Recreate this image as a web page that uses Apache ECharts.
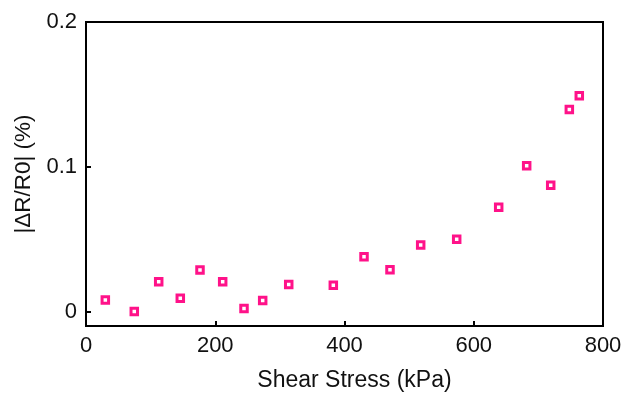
<!DOCTYPE html>
<html>
<head>
<meta charset="utf-8">
<script src="https://cdn.jsdelivr.net/npm/echarts@6/dist/echarts.min.js"></script>
<style>
  html, body { margin: 0; padding: 0; background: #fff; }
  #chart { width: 625px; height: 395px; }
</style>
</head>
<body>
<div id="chart"></div>
<script>
// Shear stress (kPa) and relative resistance change |ΔR/R0| (%)
const shearStress = [29.9, 74.7, 112.5, 145.9, 176.4, 211.5, 244.5, 273.4, 313.7, 382.7,
                     430.2, 470.4, 517.9, 573.6, 638.6, 681.9, 719.1, 747.9, 763.3];
const resistanceChange = [0.008, 0.0, 0.0205, 0.0092, 0.0286, 0.0205, 0.0021, 0.0076, 0.0186, 0.0182,
                          0.0379, 0.0288, 0.046, 0.0499, 0.072, 0.1007, 0.0872, 0.1396, 0.149];
const xTicks = [0, 200, 400, 600, 800];
const yTicks = [0, 0.1, 0.2];

const points = shearStress.map((x, i) => [x, resistanceChange[i]]);
const font = 'Liberation Sans, Arial, sans-serif';

const chart = echarts.init(document.getElementById('chart'), null, { renderer: 'canvas' });
chart.setOption({
  animation: false,
  backgroundColor: '#ffffff',
  grid: {
    left: 86, right: 22, top: 22, bottom: 69,
    outerBoundsMode: 'none', containLabel: false,
    show: true, borderColor: '#000', borderWidth: 2, backgroundColor: 'transparent'
  },
  xAxis: {
    type: 'value', min: 0, max: 800, interval: 200,
    name: 'Shear Stress (kPa)', nameLocation: 'middle', nameGap: 43,
    nameTextStyle: { fontFamily: font, fontSize: 23, color: '#111', padding: [0, 0, 0, 20] },
    axisLine: { show: true, onZero: false, lineStyle: { color: '#000', width: 2 } },
    axisTick: { show: true, inside: true, length: 5, lineStyle: { color: '#000', width: 2 } },
    axisLabel: { fontFamily: font, fontSize: 22, color: '#111', margin: 9, customValues: xTicks },
    splitLine: { show: false }
  },
  yAxis: {
    type: 'value', min: -0.01, max: 0.2,
    name: '|ΔR/R0| (%)', nameLocation: 'middle', nameGap: 49, nameRotate: 90,
    nameTextStyle: { fontFamily: font, fontSize: 22.5, color: '#111' },
    axisLine: { show: true, onZero: false, lineStyle: { color: '#000', width: 2 } },
    axisTick: { show: true, inside: true, length: 5, customValues: yTicks, lineStyle: { color: '#000', width: 2 } },
    axisLabel: {
      fontFamily: font, fontSize: 22, color: '#111', margin: 9, customValues: yTicks,
      formatter: v => (Math.abs(v) < 1e-9 ? '0' : String(Math.round(v * 10) / 10))
    },
    splitLine: { show: false }
  },
  series: [{
    type: 'scatter',
    data: points,
    symbol: 'rect',
    symbolSize: 6.5,
    itemStyle: { color: '#ffffff', borderColor: '#ff1289', borderWidth: 3, opacity: 1 }
  }]
});
</script>
</body>
</html>
